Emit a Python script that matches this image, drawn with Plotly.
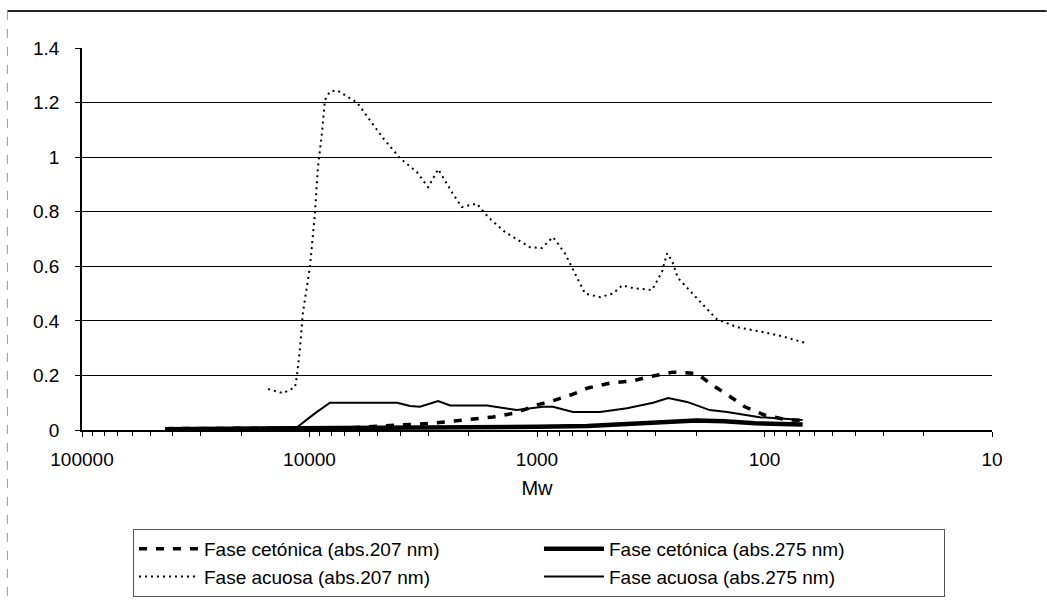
import plotly.graph_objects as go

# Fase acuosa (abs.207 nm)
mw_acu207 = [15200, 13070, 11580, 11350, 11010, 10690, 9950, 9460, 9190, 8810, 8550, 8130, 7570,
             6180, 5420, 4750, 4000, 3370, 3010, 2720, 2360, 2140, 1840, 1640, 1380, 1225, 1075,
             952, 851, 754, 695, 615, 528, 463, 423, 378, 312, 282, 268, 255, 240, 219, 186, 162,
             132, 102, 84, 66]
val_acu207 = [0.15, 0.135, 0.157, 0.2, 0.30, 0.43, 0.60, 0.795, 0.96, 1.09, 1.21, 1.24, 1.245,
              1.2, 1.135, 1.07, 0.996, 0.945, 0.89, 0.956, 0.87, 0.817, 0.83, 0.78, 0.725, 0.70, 0.67,
              0.667, 0.707, 0.648, 0.59, 0.50, 0.487, 0.50, 0.53, 0.52, 0.513, 0.58, 0.648, 0.62,
              0.557, 0.52, 0.458, 0.406, 0.377, 0.359, 0.344, 0.319]

# Fase acuosa (abs.275 nm)
mw_acu275 = [43150, 20000, 11350, 9500, 8130, 5500, 4120, 3610, 3270, 2720, 2410, 1660, 1225,
             942, 851, 695, 528, 402, 309, 265, 219, 174, 146, 105, 68]
val_acu275 = [0.005, 0.005, 0.01, 0.06, 0.1, 0.1, 0.1, 0.088, 0.085, 0.106, 0.09, 0.09, 0.073,
              0.085, 0.085, 0.066, 0.066, 0.08, 0.1, 0.117, 0.103, 0.073, 0.066, 0.047, 0.037]

# Fase cetónica (abs.207 nm)
mw_cet207 = [43150, 18280, 6640, 2870, 2030, 1560, 1250, 970, 860, 702, 597, 478, 378, 328, 253,
             198, 170, 149, 122, 100, 80, 68]
val_cet207 = [0.005, 0.005, 0.008, 0.025, 0.037, 0.048, 0.062, 0.095, 0.106, 0.13, 0.154, 0.172,
              0.18, 0.194, 0.212, 0.207, 0.165, 0.135, 0.085, 0.055, 0.037, 0.035]

# Fase cetónica (abs.275 nm)
mw_cet275 = [43150, 10000, 2000, 1000, 600, 450, 300, 200, 150, 110, 68]
val_cet275 = [0.003, 0.005, 0.008, 0.012, 0.015, 0.02, 0.03, 0.035, 0.032, 0.025, 0.02]

y_ticks = [0, 0.2, 0.4, 0.6, 0.8, 1, 1.2, 1.4]
y_labels = ["0", "0.2", "0.4", "0.6", "0.8", "1", "1.2", "1.4"]
x_ticks = [100000, 10000, 1000, 100, 10]
x_labels = ["100000", "10000", "1000", "100", "10"]

FONT = "Liberation Sans, Arial, sans-serif"

fig = go.Figure()
fig.add_trace(go.Scatter(x=mw_cet207, y=val_cet207, mode="lines",
                         name="Fase cetónica (abs.207 nm)",
                         line=dict(color="black", width=3.5, dash="8px,9px")))
fig.add_trace(go.Scatter(x=mw_cet275, y=val_cet275, mode="lines",
                         name="Fase cetónica (abs.275 nm)",
                         line=dict(color="black", width=4.5)))
fig.add_trace(go.Scatter(x=mw_acu207, y=val_acu207, mode="lines",
                         name="Fase acuosa (abs.207 nm)",
                         line=dict(color="black", width=2, dash="2px,4px")))
fig.add_trace(go.Scatter(x=mw_acu275, y=val_acu275, mode="lines",
                         name="Fase acuosa (abs.275 nm)",
                         line=dict(color="black", width=2)))

fig.update_layout(
    width=1047, height=601,
    margin=dict(l=82, r=55, t=48, b=171, autoexpand=False),
    paper_bgcolor="white", plot_bgcolor="white",
    font=dict(family=FONT, color="black", size=19),
    showlegend=True,
    legend=dict(orientation="h", xref="container", yref="container",
                x=0.127, xanchor="left", y=0.12, yanchor="top",
                entrywidth=330, entrywidthmode="pixels",
                bordercolor="#555555", borderwidth=1,
                font=dict(family=FONT, size=19, color="black"),
                itemwidth=60, tracegroupgap=0),
    xaxis=dict(type="log", range=[5, 1], autorange=False,
               tickvals=x_ticks, ticktext=x_labels,
               showgrid=False, zeroline=False,
               tickfont=dict(family=FONT, size=19),
               ticklabelstandoff=6,
               title=dict(text="Mw", font=dict(family=FONT, size=20), standoff=12)),
    yaxis=dict(range=[0, 1.4], autorange=False,
               tickvals=y_ticks, ticktext=y_labels,
               showgrid=True, gridcolor="black", gridwidth=1.2,
               zeroline=False, showline=True, linecolor="black", linewidth=1.5,
               ticks="outside", ticklen=5, tickcolor="black",
               ticklabelstandoff=12,
               tickfont=dict(family=FONT, size=19)),
)

fig.update_xaxes(showline=True, linecolor="black", linewidth=1.5, anchor="y",
                 minor=dict(ticks="outside", ticklen=4, tickcolor="black", showgrid=False,
                            dtick="D1"),
                 ticks="outside", ticklen=5, tickcolor="black")

# chart frame: top border line and left border
fig.add_shape(type="line", xref="paper", yref="paper",
              x0=-0.082, x1=1.06, y0=1.097, y1=1.097,
              line=dict(color="#222222", width=2))
fig.add_shape(type="line", xref="paper", yref="paper",
              x0=-0.082, x1=-0.082, y0=1.097, y1=-0.45,
              line=dict(color="#999999", width=1, dash="dash"))

fig.write_html("out.html")
